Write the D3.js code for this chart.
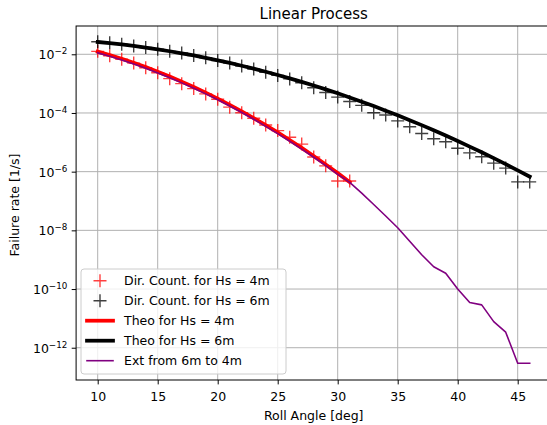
<!DOCTYPE html>
<html>
<head>
<meta charset="utf-8">
<script src="https://cdn.jsdelivr.net/npm/d3@7"></script>
<style>
  body { margin: 0; background: #fff; }
  text { font-family: "DejaVu Sans", sans-serif; fill: #000; }
</style>
</head>
<body>
<div id="container"></div>
<script>
// Data (failure rates in 1/s)
var anglesHs4 = [10, 11, 12, 13, 14, 15, 16, 17, 18, 19, 20, 21, 22, 23, 24, 25, 26, 27, 28, 29, 30, 31];
var anglesHs6 = [10, 11, 12, 13, 14, 15, 16, 17, 18, 19, 20, 21, 22, 23, 24, 25, 26, 27, 28, 29, 30, 31,
                 32, 33, 34, 35, 36, 37, 38, 39, 40, 41, 42, 43, 44, 45, 46];

var countHs4 = [1.26e-2, 8.91e-3, 6.76e-3, 5.01e-3, 3.47e-3, 2.34e-3, 1.48e-3, 1.0e-3, 6.76e-4, 4.47e-4,
                2.95e-4, 1.58e-4, 1.02e-4, 6.61e-5, 3.89e-5, 2.51e-5, 1.48e-5, 8.71e-6, 3.16e-6, 1.58e-6,
                4.79e-7, 4.79e-7];
var countHs6 = [2.69e-2, 2.45e-2, 2.19e-2, 1.91e-2, 1.70e-2, 1.48e-2, 1.26e-2, 1.10e-2, 9.12e-3, 7.59e-3,
                6.17e-3, 5.01e-3, 3.98e-3, 3.16e-3, 2.45e-3, 1.91e-3, 1.45e-3, 1.07e-3, 7.24e-4, 5.01e-4,
                3.47e-4, 2.45e-4, 1.82e-4, 1.02e-4, 8.51e-5, 5.37e-5, 3.39e-5, 2.00e-5, 1.32e-5, 1.05e-5,
                6.31e-6, 4.37e-6, 3.24e-6, 1.95e-6, 1.32e-6, 4.47e-7, 4.47e-7];

var theoHs4 = [1.23e-2, 9.38e-3, 7.00e-3, 5.12e-3, 3.66e-3, 2.55e-3, 1.75e-3, 1.17e-3, 7.67e-4, 4.92e-4,
               3.09e-4, 1.90e-4, 1.14e-4, 6.71e-5, 3.86e-5, 2.17e-5, 1.20e-5, 6.47e-6, 3.41e-6, 1.76e-6,
               8.91e-7, 4.41e-7];
var theoHs6 = [2.63e-2, 2.40e-2, 2.16e-2, 1.93e-2, 1.70e-2, 1.48e-2, 1.27e-2, 1.08e-2, 9.12e-3, 7.59e-3,
               6.24e-3, 5.07e-3, 4.07e-3, 3.24e-3, 2.54e-3, 1.97e-3, 1.51e-3, 1.15e-3, 8.61e-4, 6.38e-4,
               4.68e-4, 3.39e-4, 2.43e-4, 1.72e-4, 1.20e-4, 8.32e-5, 5.69e-5, 3.85e-5, 2.57e-5, 1.70e-5,
               1.11e-5, 7.16e-6, 4.57e-6, 2.88e-6, 1.80e-6, 1.11e-6, 6.76e-7];

var extHs6to4 = [1.12e-2, 8.54e-3, 6.37e-3, 4.66e-3, 3.33e-3, 2.32e-3, 1.59e-3, 1.06e-3, 6.98e-4, 4.48e-4,
                 2.81e-4, 1.73e-4, 1.04e-4, 6.11e-5, 3.51e-5, 1.97e-5, 1.09e-5, 5.89e-6, 3.10e-6, 1.60e-6,
                 8.11e-7, 4.3e-7, 1.86e-7, 7.59e-8, 3.09e-8, 1.23e-8, 4.27e-9, 1.48e-9, 5.75e-10, 3.47e-10,
                 1.0e-10, 3.47e-11, 2.88e-11, 7.76e-12, 3.39e-12, 2.95e-13, 2.95e-13];

var xTicks = [10, 15, 20, 25, 30, 35, 40, 45];
var yTicks = [1e-2, 1e-4, 1e-6, 1e-8, 1e-10, 1e-12];

var legendLabels = ['Dir. Count. for Hs = 4m', 'Dir. Count. for Hs = 6m',
                    'Theo for Hs = 4m', 'Theo for Hs = 6m', 'Ext from 6m to 4m'];

// Basic parameters
var WIDTH = 547,
    HEIGHT = 425;
var plotL = 76.1, plotR = 551.3, plotT = 26, plotB = 380;

var svg = d3.select('#container')
    .append('svg')
    .attr('width', WIDTH)
    .attr('height', HEIGHT);

var x = d3.scaleLinear().domain([8.2, 47.8]).range([plotL, plotR]);
var y = d3.scaleLog().domain([Math.pow(10, -1.036), Math.pow(10, -13.10)]).range([plotT, plotB]);

svg.append('clipPath').attr('id', 'plotArea')
    .append('rect')
    .attr('x', plotL).attr('y', plotT)
    .attr('width', plotR - plotL).attr('height', plotB - plotT);

// grid
var grid = svg.append('g');
grid.selectAll('.vgrid').data(xTicks).enter()
    .append('line')
    .attr('x1', function(d) { return x(d); })
    .attr('x2', function(d) { return x(d); })
    .attr('y1', plotT).attr('y2', plotB)
    .attr('stroke', '#b0b0b0').attr('stroke-width', 1);
grid.selectAll('.hgrid').data(yTicks).enter()
    .append('line')
    .attr('y1', function(d) { return y(d); })
    .attr('y2', function(d) { return y(d); })
    .attr('x1', plotL).attr('x2', plotR)
    .attr('stroke', '#b0b0b0').attr('stroke-width', 1);

// axes
var xAxis = svg.append('g')
    .attr('transform', 'translate(0,' + plotB + ')')
    .call(d3.axisBottom(x).tickValues(xTicks).tickSize(4.4).tickPadding(4.4).tickFormat(d3.format('d')));
xAxis.select('.domain').remove();
xAxis.selectAll('.tick line').attr('stroke', '#000').attr('stroke-width', 1);
xAxis.selectAll('.tick text')
    .attr('y', 21).attr('dy', null)
    .style('font-size', '12.5px')
    .style('font-family', '"DejaVu Sans"');

var yAxis = svg.append('g')
    .attr('transform', 'translate(' + plotL + ',0)')
    .call(d3.axisLeft(y).tickValues(yTicks).tickSize(4.4).tickPadding(4.4).tickFormat(''));
yAxis.select('.domain').remove();
yAxis.selectAll('.tick line').attr('stroke', '#000').attr('stroke-width', 1);
yAxis.selectAll('.tick text').each(function(d) {
    var t = d3.select(this)
        .attr('x', -8.8).attr('dy', '0.36em')
        .attr('text-anchor', 'end')
        .style('font-size', '12.5px')
        .style('font-family', '"DejaVu Sans"');
    t.text(null);
    t.append('tspan').text('10');
    t.append('tspan')
        .attr('dy', -5)
        .style('font-size', '8.75px')
        .text('\u2212' + Math.round(-Math.log10(d)));
});

// data
var plot = svg.append('g').attr('clip-path', 'url(#plotArea)');

var crossPath = function(px, py, s) {
    return 'M' + (px - s) + ',' + py + 'h' + (2 * s) + 'M' + px + ',' + (py - s) + 'v' + (2 * s);
};

var drawCrosses = function(xs, ys, color) {
    plot.append('g').selectAll('path')
        .data(xs.map(function(d, i) { return [d, ys[i]]; }))
        .enter()
        .append('path')
        .attr('d', function(d) { return crossPath(x(d[0]), y(d[1]), 6.5); })
        .attr('stroke', color)
        .attr('stroke-width', 1.4)
        .attr('stroke-opacity', 0.75)
        .attr('fill', 'none');
};

var drawLine = function(xs, ys, color, w) {
    var line = d3.line()
        .x(function(d) { return x(d[0]); })
        .y(function(d) { return y(d[1]); });
    plot.append('path')
        .datum(xs.map(function(d, i) { return [d, ys[i]]; }))
        .attr('d', line)
        .attr('fill', 'none')
        .attr('stroke', color)
        .attr('stroke-width', w)
        .attr('stroke-linejoin', 'round')
        .attr('stroke-linecap', 'square');
};

drawCrosses(anglesHs4, countHs4, '#ff0000');
drawCrosses(anglesHs6, countHs6, '#000000');
drawLine(anglesHs4, theoHs4, '#ff0000', 3.75);
drawLine(anglesHs6, theoHs6, '#000000', 3.75);
drawLine(anglesHs6, extHs6to4, '#800080', 1.6);

// spines
svg.append('rect')
    .attr('x', plotL).attr('y', plotT)
    .attr('width', plotR - plotL).attr('height', plotB - plotT)
    .attr('fill', 'none').attr('stroke', '#000').attr('stroke-width', 1);

// titles
svg.append('text')
    .attr('x', (plotL + plotR) / 2).attr('y', 18.5)
    .attr('text-anchor', 'middle')
    .style('font-size', '15px')
    .text('Linear Process');

svg.append('text')
    .attr('x', (plotL + plotR) / 2).attr('y', 420)
    .attr('text-anchor', 'middle')
    .style('font-size', '12.5px')
    .text('Roll Angle [deg]');

svg.append('text')
    .attr('transform', 'translate(19,205) rotate(-90)')
    .attr('text-anchor', 'middle')
    .style('font-size', '12.5px')
    .text('Failure rate [1/s]');

// legend
var legend = svg.append('g');
legend.append('rect')
    .attr('x', 81).attr('y', 269)
    .attr('width', 205).attr('height', 105)
    .attr('rx', 3)
    .attr('fill', '#fff').attr('fill-opacity', 0.8)
    .attr('stroke', '#cccccc').attr('stroke-width', 1);

var rowY = function(i) { return 280.7 + i * 20; };
var handleStyles = [
    { type: 'cross', color: '#ff0000' },
    { type: 'cross', color: '#000000' },
    { type: 'line', color: '#ff0000', w: 3.75 },
    { type: 'line', color: '#000000', w: 3.75 },
    { type: 'line', color: '#800080', w: 1.6 }
];

legendLabels.forEach(function(label, i) {
    var h = handleStyles[i];
    if (h.type === 'cross') {
        legend.append('path')
            .attr('d', crossPath(100, rowY(i), 6.5))
            .attr('stroke', h.color)
            .attr('stroke-width', 1.4)
            .attr('stroke-opacity', 0.75);
    } else {
        legend.append('line')
            .attr('x1', 87).attr('x2', 113)
            .attr('y1', rowY(i)).attr('y2', rowY(i))
            .attr('stroke', h.color)
            .attr('stroke-width', h.w)
            .attr('stroke-linecap', 'square');
    }
    legend.append('text')
        .attr('x', 124).attr('y', rowY(i))
        .attr('dy', '0.36em')
        .style('font-size', '12.5px')
        .text(label);
});
</script>
</body>
</html>
